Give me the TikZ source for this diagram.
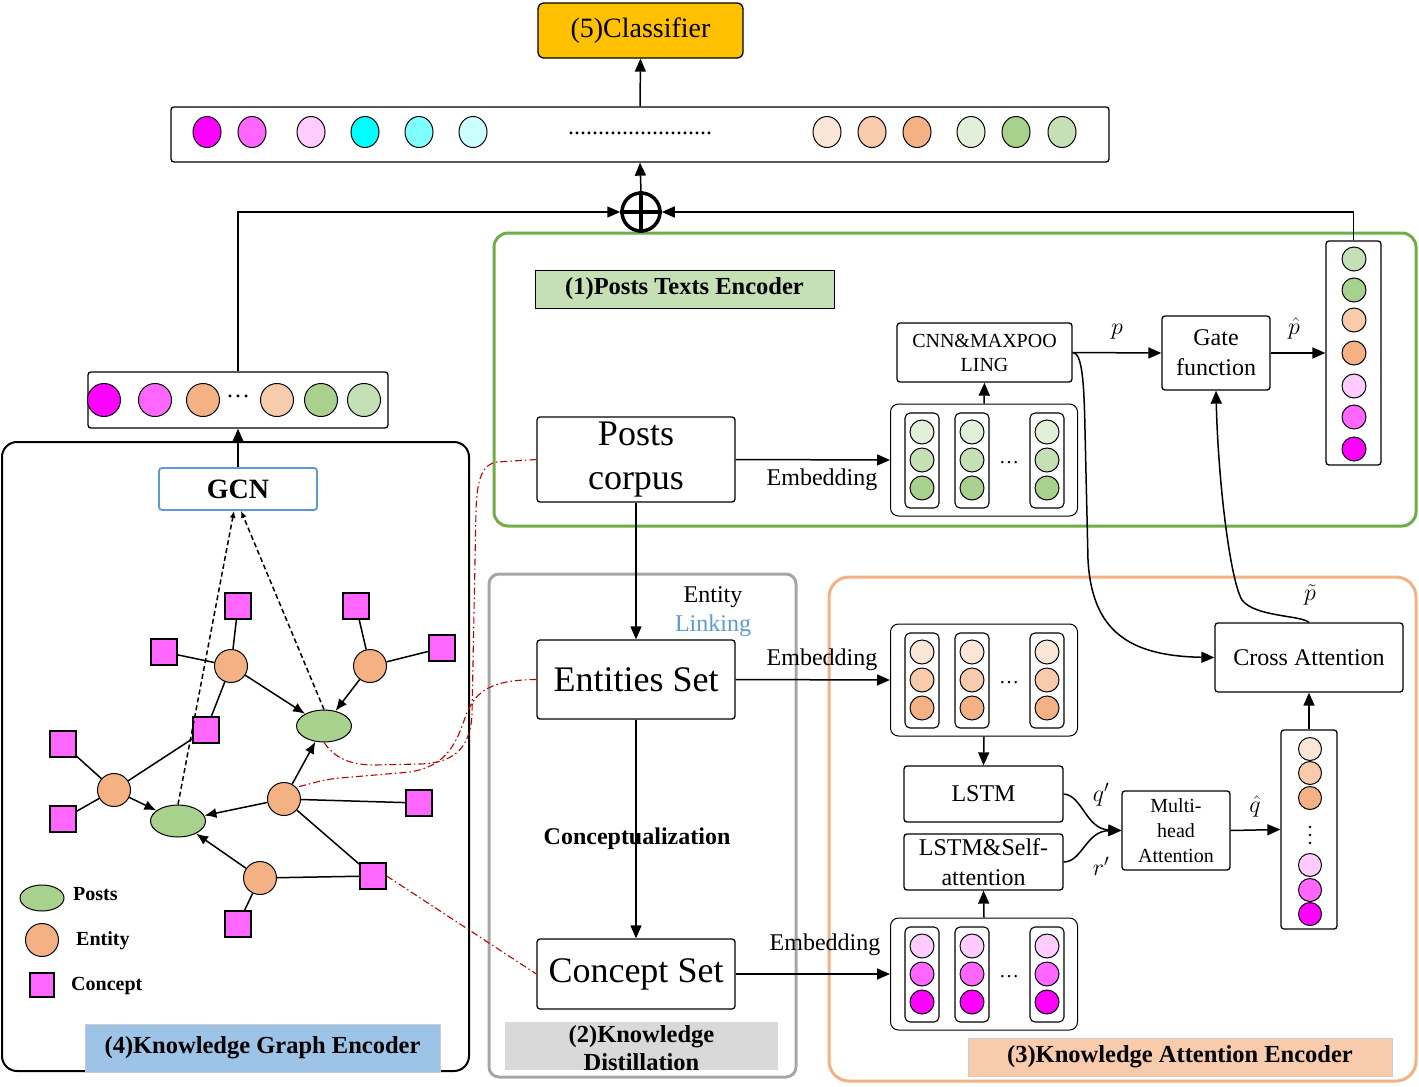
\RequirePackage{fix-cm}
\documentclass[tikz,border=0pt]{standalone}
\usepackage{fontspec}
\setmainfont{Liberation Serif}
\usetikzlibrary{arrows.meta,shapes.geometric}

\definecolor{greenA}{HTML}{E2F0D9}
\definecolor{greenB}{HTML}{C5E0B4}
\definecolor{greenC}{HTML}{A9D18E}
\definecolor{orangeA}{HTML}{FBE5D6}
\definecolor{orangeB}{HTML}{F8CBAD}
\definecolor{orangeC}{HTML}{F4B183}
\definecolor{pinkA}{HTML}{FFCCFF}
\definecolor{pinkB}{HTML}{FF66FF}
\definecolor{pinkC}{HTML}{FF00FF}
\definecolor{cyanA}{HTML}{CCFFFF}
\definecolor{cyanB}{HTML}{80FFFF}
\definecolor{cyanC}{HTML}{00FFFF}
\definecolor{greenFrame}{HTML}{70AD47}
\definecolor{grayFrame}{HTML}{A6A6A6}
\definecolor{grayTitle}{HTML}{D9D9D9}
\definecolor{blueB}{HTML}{5B9BD5}
\definecolor{blueTitle}{HTML}{9DC3E6}
\definecolor{yellowC}{HTML}{FFC000}
\definecolor{linkRed}{HTML}{C00000}

\begin{document}
\begin{tikzpicture}[x=1pt,y=-1pt,>={Triangle[length=13pt,width=11pt]}]

	\tikzstyle{frame_box} = [rounded corners=14pt, line width=3pt]
	\tikzstyle{block} = [draw, rectangle, rounded corners=3pt, inner sep=0pt, line width=1.3pt, align=center]
	\tikzstyle{title_box} = [rectangle, inner sep=0pt, font=\bfseries\fontsize{24.5}{28}\selectfont]
	\tikzstyle{vec_box} = [draw, rectangle, rounded corners=3pt, line width=1.3pt, inner sep=0pt]
	\tikzstyle{col_box} = [draw, rectangle, rounded corners=5pt, line width=1.1pt, minimum width=34pt, minimum height=95pt, inner sep=0pt]
	\tikzstyle{vec_unit} = [draw, circle, line width=1pt, minimum size=24pt, inner sep=0pt]
	\tikzstyle{vec_oval} = [draw, ellipse, line width=1pt, minimum width=28pt, minimum height=31pt, inner sep=0pt]
	\tikzstyle{concept_node} = [draw, rectangle, fill=pinkB, line width=1.3pt, minimum size=26pt, inner sep=0pt]
	\tikzstyle{entity_node} = [draw, circle, fill=orangeC, line width=1pt, minimum size=33pt, inner sep=0pt]
	\tikzstyle{post_node} = [draw, ellipse, fill=greenC, line width=1pt, minimum width=55pt, minimum height=32pt, inner sep=0pt]
	\tikzstyle{graph_edge} = [line width=1.5pt]
	\tikzstyle{graph_arrow} = [line width=1.5pt, -{Latex[length=12pt,width=10pt]}]
	\tikzstyle{gcn_arrow} = [line width=1.5pt, dash pattern=on 5pt off 3pt, -{Latex[length=7pt,width=6pt]}]
	\tikzstyle{flow} = [line width=1.5pt, ->]
	\tikzstyle{link_line} = [draw=linkRed, line width=1.1pt, dash pattern=on 7pt off 3pt on 1.5pt off 3pt]
	\tikzstyle{txt} = [font=\fontsize{24}{29}\selectfont, inner sep=0pt]

	\useasboundingbox (0,0) rectangle (1419,1087);

%------------------------------------------------------------
	\draw[line width=2pt, rounded corners=15pt] (2,442) rectangle (469,1071);
	\draw[frame_box, draw=grayFrame, rounded corners=10pt] (489,574) rectangle (796,1077);
	\draw[frame_box, draw=greenFrame] (494,233) rectangle (1416,526);
	\draw[frame_box, draw=orangeC, rounded corners=20pt] (829,577) rectangle (1416,1081);

	\node[title_box, draw, fill=greenB, line width=1pt, minimum width=299pt, minimum height=38pt] (title1) at (684.5,289) {(1)Posts Texts Encoder};
	\node[title_box, fill=grayTitle, minimum width=273pt, minimum height=48pt] (title2) at (641.5,1046) {};
	\node[title_box, align=center] (title2txt) at (641.5,1048) {(2)Knowledge\\Distillation};
	\node[title_box, draw=gray!40, fill=orangeB, line width=1pt, minimum width=424pt, minimum height=38pt] (title3) at (1180,1057) {(3)Knowledge Attention Encoder};
	\node[title_box, draw=gray!40, fill=blueTitle, line width=1pt, minimum width=355pt, minimum height=48pt] (title4) at (262.5,1048) {(4)Knowledge Graph Encoder};

%------------------------------------------------------------
	\node[block, fill=yellowC, rounded corners=6pt, minimum width=205pt, minimum height=55pt, font=\fontsize{28}{32}\selectfont] (classifier) at (640.5,30.5) {(5)Classifier};

	\node[vec_box, minimum width=938pt, minimum height=55pt] (topvec) at (640,134.5) {};
	\node[vec_oval, fill=pinkC]   (t1)  at (207,132) {};
	\node[vec_oval, fill=pinkB]   (t2)  at (252,132) {};
	\node[vec_oval, fill=pinkA]   (t3)  at (311,132) {};
	\node[vec_oval, fill=cyanC]   (t4)  at (365,132) {};
	\node[vec_oval, fill=cyanB]   (t5)  at (419,132) {};
	\node[vec_oval, fill=cyanA]   (t6)  at (473,132) {};
	\node[txt] (tdots) at (640,133) {........................};
	\node[vec_oval, fill=orangeA] (t7)  at (827,132) {};
	\node[vec_oval, fill=orangeB] (t8)  at (872,132) {};
	\node[vec_oval, fill=orangeC] (t9)  at (917,132) {};
	\node[vec_oval, fill=greenA]  (t10) at (971,132) {};
	\node[vec_oval, fill=greenC]  (t11) at (1016,132) {};
	\node[vec_oval, fill=greenB]  (t12) at (1062,132) {};

	\node[circle, draw, line width=3.5pt, minimum size=38pt, inner sep=0pt] (oplus) at (641,212) {};
	\draw[line width=3.5pt] (oplus.north) -- (oplus.south) (oplus.west) -- (oplus.east);

%------------------------------------------------------------
	\node[vec_box, minimum width=300pt, minimum height=56pt] (leftvec) at (238,400) {};
	\node[vec_unit, minimum size=33pt, fill=pinkC]   (l1) at (104,400) {};
	\node[vec_unit, minimum size=33pt, fill=pinkB]   (l2) at (155,400) {};
	\node[vec_unit, minimum size=33pt, fill=orangeC] (l3) at (203,400) {};
	\node[txt] (ldots) at (238,396) {\ldots};
	\node[vec_unit, minimum size=33pt, fill=orangeB] (l4) at (277,400) {};
	\node[vec_unit, minimum size=33pt, fill=greenC]  (l5) at (321,400) {};
	\node[vec_unit, minimum size=33pt, fill=greenB]  (l6) at (364,400) {};

	\node[block, draw=blueB, line width=1.8pt, minimum width=158pt, minimum height=42pt, font=\bfseries\fontsize{28}{32}\selectfont] (gcn) at (238,489) {GCN};

%------------------------------------------------------------
	\node[concept_node] (c1)  at (238,606) {};
	\node[concept_node] (c2)  at (356,606) {};
	\node[concept_node] (c3)  at (164,652) {};
	\node[concept_node] (c4)  at (442,648) {};
	\node[concept_node] (c5)  at (206,730) {};
	\node[concept_node] (c6)  at (63,744) {};
	\node[concept_node] (c7)  at (63,819) {};
	\node[concept_node] (c8)  at (419,803) {};
	\node[concept_node] (c9)  at (373,876) {};
	\node[concept_node] (c10) at (238,924) {};

	\node[entity_node] (e1) at (231,666) {};
	\node[entity_node] (e2) at (370,666) {};
	\node[entity_node] (e3) at (114,790) {};
	\node[entity_node] (e4) at (284,799) {};
	\node[entity_node] (e5) at (260,878) {};

	\node[post_node] (p1) at (324,726) {};
	\node[post_node] (p2) at (178,821) {};

	\draw[graph_edge] (c1) -- (e1);
	\draw[graph_edge] (c3) -- (e1);
	\draw[graph_edge] (e1) -- (c5);
	\draw[graph_edge] (c2) -- (e2);
	\draw[graph_edge] (e2) -- (c4);
	\draw[graph_edge] (c5) -- (e3);
	\draw[graph_edge] (c6) -- (e3);
	\draw[graph_edge] (c7) -- (e3);
	\draw[graph_edge] (e4) -- (c8);
	\draw[graph_edge] (e4) -- (c9);
	\draw[graph_edge] (e5) -- (c9);
	\draw[graph_edge] (e5) -- (c10);
	\draw[graph_arrow] (e1) -- (p1);
	\draw[graph_arrow] (e2) -- (p1);
	\draw[graph_arrow] (e4) -- (p1);
	\draw[graph_arrow] (e3) -- (p2);
	\draw[graph_arrow] (e4) -- (p2);
	\draw[graph_arrow] (e5) -- (p2);

	\draw[gcn_arrow] (p2.north) -- ([xshift=-4pt]gcn.south);
	\draw[gcn_arrow] (p1.north) -- ([xshift=3pt]gcn.south);

	\node[post_node, minimum width=44pt, minimum height=26pt] (leg_post) at (42,898) {};
	\node[entity_node] (leg_entity) at (42,940) {};
	\node[concept_node, minimum size=24pt] (leg_concept) at (42,985) {};
	\node[txt, font=\bfseries\fontsize{20}{24}\selectfont, anchor=west] (leg_post_txt) at (73,894) {Posts};
	\node[txt, font=\bfseries\fontsize{20}{24}\selectfont, anchor=west] (leg_entity_txt) at (76,941) {Entity};
	\node[txt, font=\bfseries\fontsize{20}{24}\selectfont, anchor=west] (leg_concept_txt) at (71,986) {Concept};

%------------------------------------------------------------
	\node[block, minimum width=198pt, minimum height=85pt, font=\fontsize{36}{44}\selectfont] (posts) at (636,459.5) {Posts\\corpus};
	\node[block, minimum width=198pt, minimum height=79pt, font=\fontsize{36}{44}\selectfont] (ents) at (636,679.5) {Entities Set};
	\node[block, minimum width=198pt, minimum height=70pt, font=\fontsize{36}{44}\selectfont] (concept) at (636,974) {Concept Set};

	\node[txt, align=center] (linking) at (713,612) {Entity\\\textcolor{blueB}{Linking}};
	\node[txt, font=\bfseries\fontsize{24}{28}\selectfont] (concept_lbl) at (637,839) {Conceptualization};

	\draw[flow] (posts.south) -- (ents.north);
	\draw[flow] (ents.south) -- (concept.north);

%------------------------------------------------------------
	\foreach \g/\yc/\ca/\cb/\cc in {embA/460/greenA/greenB/greenC, embB/680/orangeA/orangeB/orangeC, embC/974/pinkA/pinkB/pinkC}{
		\node[vec_box, rounded corners=8pt, minimum width=187pt, minimum height=112pt, line width=1pt] (\g) at (984,\yc) {};
		\foreach \cx/\k in {922/1, 972/2, 1047/3}{
			\node[col_box] (\g col\k) at (\cx,\yc+0.5) {};
			\node[vec_unit, fill=\ca] (\g a\k) at (\cx,\yc-28) {};
			\node[vec_unit, fill=\cb] (\g b\k) at (\cx,\yc) {};
			\node[vec_unit, fill=\cc] (\g c\k) at (\cx,\yc+28) {};
		}
		\node[font=\fontsize{20}{24}\selectfont, inner sep=0pt] (\g dots) at (1009,\yc+3) {\ldots};
	}

	\node[txt] (emb_a) at (822,480) {Embedding};
	\node[txt] (emb_b) at (822,660) {Embedding};
	\node[txt] (emb_c) at (825,945) {Embedding};

	\draw[flow] (posts.east) -- (embA.west);
	\draw[flow] (ents.east) -- (embB.west);
	\draw[flow] (concept.east) -- (embC.west);

%------------------------------------------------------------
	\node[block, minimum width=175pt, minimum height=59pt, font=\fontsize{20}{24}\selectfont] (cnn) at (984.5,352.5) {CNN\&MAXPOO\\LING};
	\node[block, minimum width=108pt, minimum height=74pt, font=\fontsize{24}{30}\selectfont] (gate) at (1216,353) {Gate\\function};

	\node[vec_box, minimum width=55pt, minimum height=224pt] (rvec) at (1353.5,353) {};
	\node[vec_unit, fill=greenB]  (r1) at (1354,259) {};
	\node[vec_unit, fill=greenC]  (r2) at (1354,290) {};
	\node[vec_unit, fill=orangeB] (r3) at (1354,320) {};
	\node[vec_unit, fill=orangeC] (r4) at (1354,353) {};
	\node[vec_unit, fill=pinkA]   (r5) at (1354,386) {};
	\node[vec_unit, fill=pinkB]   (r6) at (1354,417) {};
	\node[vec_unit, fill=pinkC]   (r7) at (1354,449) {};

	\draw[flow] (embA.north) -- (cnn.south);
	\draw[flow] (cnn.east) -- (gate.west);
	\draw[flow] (gate.east) -- (rvec.west);
	\node[txt] (p_lbl) at (1117,332) {$p$};
	\node[txt] (phat_lbl) at (1294,328) {$\hat{p}$};

	\draw[flow] (rvec.north) |- (oplus.east);
	\draw[flow] (leftvec.north) |- (oplus.west);
	\draw[flow] (oplus.north) -- (topvec.south);
	\draw[flow] (topvec.north) -- (classifier.south);
	\draw[flow] (gcn.north) -- (leftvec.south);

%------------------------------------------------------------
	\node[block, minimum width=188pt, minimum height=69pt, font=\fontsize{24}{29}\selectfont] (cross) at (1309,657.5) {Cross Attention};
	\node[block, minimum width=159pt, minimum height=56pt, font=\fontsize{24}{29}\selectfont] (lstm) at (983.5,794) {LSTM};
	\node[block, minimum width=159pt, minimum height=56pt, font=\fontsize{24}{30}\selectfont] (selfatt) at (983.5,862) {LSTM\&Self-\\attention};
	\node[block, minimum width=108pt, minimum height=79pt, font=\fontsize{20}{25}\selectfont] (multi) at (1176,830.5) {Multi-\\head\\Attention};

	\node[vec_box, minimum width=56pt, minimum height=199pt] (col2) at (1309,829.5) {};
	\node[vec_unit, minimum size=23pt, fill=orangeA] (q1) at (1310,749) {};
	\node[vec_unit, minimum size=23pt, fill=orangeB] (q2) at (1310,773) {};
	\node[vec_unit, minimum size=23pt, fill=orangeC] (q3) at (1310,798) {};
	\fill (1310,827) circle (1.4pt) (1310,835) circle (1.4pt) (1310,843) circle (1.4pt);
	\node[vec_unit, minimum size=23pt, fill=pinkA]   (q4) at (1310,865) {};
	\node[vec_unit, minimum size=23pt, fill=pinkB]   (q5) at (1310,890) {};
	\node[vec_unit, minimum size=23pt, fill=pinkC]   (q6) at (1310,914) {};

	\draw[flow] (embB.south) -- (lstm.north);
	\draw[flow] (embC.north) -- (selfatt.south);
	\draw[flow] (lstm.east) .. controls (1082,795) and (1086,829) .. (multi.west);
	\draw[flow] (selfatt.east) .. controls (1082,862) and (1086,831) .. (multi.west);
	\draw[flow] (multi.east) -- (col2.west);
	\draw[flow] (col2.north) -- (cross.south);
	\node[txt] (q_lbl) at (1101,795) {$q'$};
	\node[txt] (r_lbl) at (1101,866) {$r'$};
	\node[txt] (qhat_lbl) at (1255,806) {$\hat{q}$};

	\draw[flow] (cnn.east) .. controls (1082,353) and (1084,380) .. (1085,430) -- (1088,560) .. controls (1092,632) and (1130,656) .. (cross.west);
	\draw[flow] (cross.north) .. controls (1300,615) and (1255,617) .. (1242,600) .. controls (1230,580) and (1218,480) .. (gate.south);
	\node[txt] (ptilde_lbl) at (1310,595) {$\tilde{p}$};

%------------------------------------------------------------
	\draw[link_line] (posts.west) -- (497,462) .. controls (482,464) and (477,480) .. (476,510) -- (472,715) .. controls (470,750) and (452,763) .. (420,764) -- (375,765) .. controls (345,765) and (333,755) .. (p1.south);
	\draw[link_line] (ents.west) .. controls (492,680) and (476,690) .. (466,715) .. controls (456,745) and (446,766) .. (410,772) -- (340,778) .. controls (318,780) and (305,786) .. (e4.45);
	\draw[link_line] (c9.east) -- (concept.west);

\end{tikzpicture}
\end{document}
